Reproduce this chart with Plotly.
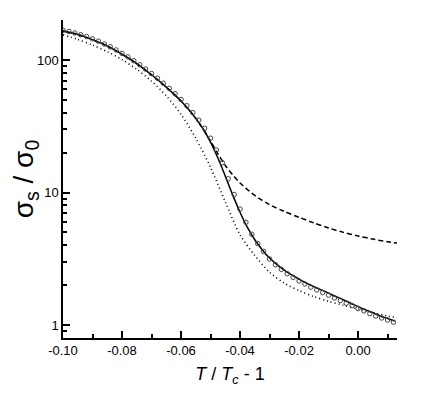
import plotly.graph_objects as go

# reduced temperature T/Tc - 1 for the solid curve
t_line = [-0.1000, -0.0975, -0.0950, -0.0925, -0.0900, -0.0875, -0.0850, -0.0825,
          -0.0800, -0.0775, -0.0750, -0.0725, -0.0700, -0.0675, -0.0650, -0.0625,
          -0.0600, -0.0575, -0.0550, -0.0525, -0.0500, -0.0475, -0.0450, -0.0425,
          -0.0400, -0.0375, -0.0350, -0.0325, -0.0300, -0.0275, -0.0250, -0.0225,
          -0.0200, -0.0175, -0.0150, -0.0125, -0.0100, -0.0075, -0.0050, -0.0025,
          0.0000, 0.0025, 0.0050, 0.0075, 0.0100, 0.0125]

# solid curve
sigma_solid = [165.6, 161.1, 155.6, 149.6, 142.6, 135.2, 127.4, 119.1,
               110.7, 102.3, 93.8, 85.5, 77.4, 69.8, 62.4, 55.5,
               49.0, 42.5, 36.3, 30.2, 24.0, 18.2, 13.3, 9.6,
               7.1, 5.45, 4.4, 3.7, 3.2, 2.86, 2.6, 2.39,
               2.22, 2.07, 1.95, 1.84, 1.74, 1.64, 1.55, 1.46,
               1.38, 1.30, 1.24, 1.17, 1.12, 1.07]

# open circles (measured)
t_points = [-0.100, -0.098, -0.096, -0.094, -0.092, -0.090, -0.088, -0.086,
            -0.084, -0.082, -0.080, -0.078, -0.076, -0.074, -0.072, -0.070,
            -0.068, -0.066, -0.064, -0.062, -0.060, -0.058, -0.056, -0.054,
            -0.052, -0.050, -0.048, -0.046, -0.044, -0.042, -0.040, -0.038,
            -0.036, -0.034, -0.032, -0.030, -0.028, -0.026, -0.024, -0.022,
            -0.020, -0.018, -0.016, -0.014, -0.012, -0.010, -0.008, -0.006,
            -0.004, -0.002, 0.000, 0.002, 0.004, 0.006, 0.008, 0.010, 0.012]
sigma_points = [167.9, 164.1, 160.0, 155.2, 150.3, 144.5, 138.7, 132.1,
                125.9, 119.1, 112.2, 105.7, 98.8, 92.0, 85.5, 79.1,
                72.9, 66.8, 61.1, 55.6, 50.4, 45.2, 40.1, 35.2,
                30.5, 25.7, 20.9, 16.8, 12.7, 9.66, 7.5, 5.96,
                4.84, 4.12, 3.59, 3.15, 2.85, 2.63, 2.44, 2.29,
                2.15, 2.04, 1.93, 1.84, 1.76, 1.68, 1.60, 1.53,
                1.46, 1.40, 1.33, 1.28, 1.22, 1.17, 1.13, 1.09, 1.05]

# dotted curve
t_dot = [-0.100, -0.095, -0.090, -0.085, -0.080, -0.075, -0.070, -0.065,
         -0.060, -0.055, -0.050, -0.045, -0.040, -0.035, -0.030, -0.025,
         -0.020, -0.015, -0.010, -0.005, 0.000, 0.005, 0.010, 0.0132]
sigma_dot = [154.9, 142.9, 129.7, 115.6, 100.7, 85.1, 69.2, 53.7,
             38.9, 25.7, 15.5, 8.5, 4.8, 3.35, 2.5, 2.07,
             1.82, 1.64, 1.51, 1.41, 1.32, 1.24, 1.17, 1.135]

# dashed curve
t_dash = [-0.100, -0.095, -0.090, -0.085, -0.080, -0.075, -0.070, -0.065,
          -0.060, -0.055, -0.050, -0.0475, -0.045, -0.0425, -0.040, -0.035,
          -0.030, -0.025, -0.020, -0.015, -0.010, -0.005, 0.000, 0.005,
          0.010, 0.0132]
sigma_dash = [165.6, 155.6, 142.6, 127.4, 110.7, 93.8, 77.4, 62.4,
              49.0, 36.3, 24.5, 19.6, 16.0, 13.6, 11.8, 9.5,
              8.1, 7.2, 6.5, 5.9, 5.4, 5.0, 4.7, 4.45,
              4.25, 4.15]

x_ticks = [-0.10, -0.08, -0.06, -0.04, -0.02, 0.00]
x_labels = ["-0.10", "-0.08", "-0.06", "-0.04", "-0.02", "0.00"]
x_minor = [-0.09, -0.07, -0.05, -0.03, -0.01, 0.01]
y_ticks = [1, 10, 100]
y_minor = [0.9, 2, 3, 4, 5, 6, 7, 8, 9, 20, 30, 40, 50, 60, 70, 80, 90, 200]

fig = go.Figure()

fig.add_trace(go.Scatter(x=t_dot, y=sigma_dot, mode="lines",
                         line=dict(color="black", width=1.6, dash="1px,3px",
                                   shape="spline", smoothing=0.8)))
fig.add_trace(go.Scatter(x=t_dash, y=sigma_dash, mode="lines",
                         line=dict(color="black", width=1.5, dash="5px,3px",
                                   shape="spline", smoothing=0.8)))
fig.add_trace(go.Scatter(x=t_line, y=sigma_solid, mode="lines",
                         line=dict(color="black", width=1.5,
                                   shape="spline", smoothing=0.8)))
fig.add_trace(go.Scatter(x=t_points, y=sigma_points, mode="markers",
                         marker=dict(symbol="circle-open", size=4.5, color="#444",
                                     line=dict(width=1, color="#444"))))

# the page body adds an 8px offset, so the figure is 8px smaller here
fig.update_layout(
    width=428, height=389,
    margin=dict(l=55, r=39, t=12, b=59),
    plot_bgcolor="white", paper_bgcolor="white",
    showlegend=False,
    font=dict(family="Liberation Sans, Arial, sans-serif", size=13, color="black"),
)

fig.update_xaxes(
    range=[-0.1, 0.0132], automargin=False,
    showline=True, linecolor="black", linewidth=1.5,
    showgrid=False, zeroline=False,
    ticks="inside", ticklen=7, tickwidth=1.5, tickcolor="black",
    tickmode="array", tickvals=x_ticks, ticktext=x_labels,
    minor=dict(tickmode="array", tickvals=x_minor, ticks="inside",
               ticklen=4, tickwidth=1.5, tickcolor="black", showgrid=False),
    title=dict(text="<i>T</i> / <i>T</i><sub><i>c</i></sub> - 1",
               font=dict(size=18), standoff=10),
)

fig.update_yaxes(
    type="log", range=[-0.098, 2.302], automargin=False,
    showline=True, linecolor="black", linewidth=1.5,
    showgrid=False, zeroline=False,
    ticks="inside", ticklen=7, tickwidth=1.5, tickcolor="black",
    tickmode="array", tickvals=y_ticks, ticktext=["1", "10", "100"],
    minor=dict(tickmode="array", tickvals=y_minor, ticks="inside",
               ticklen=4, tickwidth=1.5, tickcolor="black", showgrid=False),
    title=dict(text="σ<sub>s</sub> / σ<sub>0</sub>", font=dict(size=28), standoff=5),
)

fig.write_html("out.html")
